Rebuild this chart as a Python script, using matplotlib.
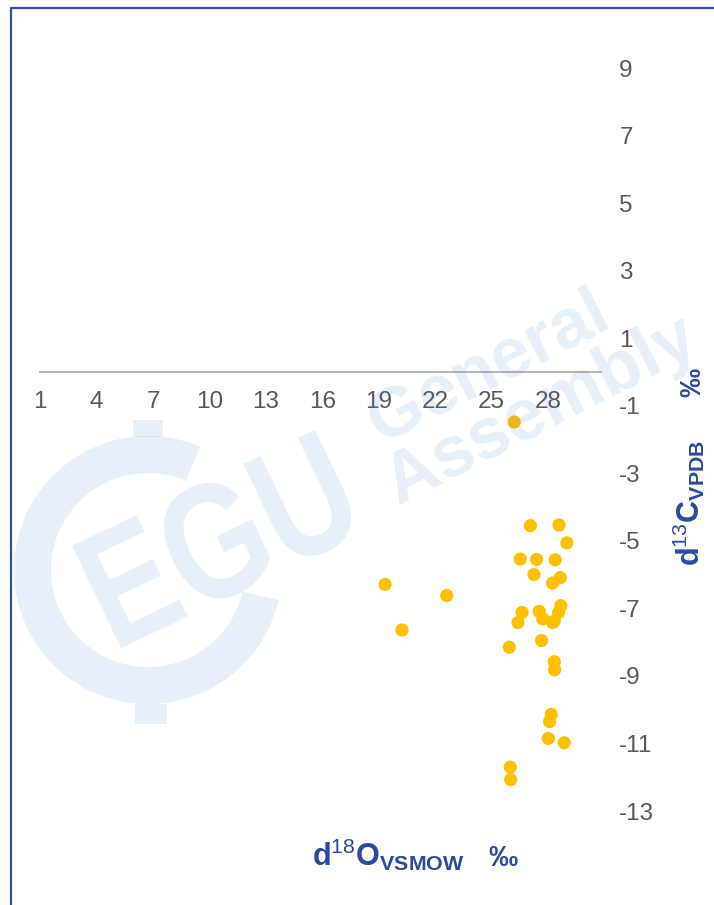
import matplotlib
matplotlib.use('Agg')
import matplotlib.pyplot as plt
import matplotlib.transforms as mtransforms
from matplotlib.textpath import TextPath
from matplotlib.patches import PathPatch, Wedge, Rectangle
from matplotlib.font_manager import FontProperties
from matplotlib.lines import Line2D

# data
d18o = [26.21, 27.07, 28.59, 29.01, 26.53, 27.40, 28.39, 27.26, 28.66, 28.25,
        19.34, 22.62, 28.69, 28.57, 26.63, 27.54, 26.41, 27.73, 28.25, 28.34,
        20.24, 27.66, 25.95, 28.34, 28.36, 28.18, 28.09, 28.02, 28.87, 26.00, 26.02]
d13c = [-1.48, -4.55, -4.53, -5.06, -5.54, -5.55, -5.56, -6.00, -6.09, -6.25,
        -6.29, -6.62, -6.92, -7.12, -7.12, -7.09, -7.42, -7.31, -7.42, -7.38,
        -7.64, -7.95, -8.15, -8.58, -8.82, -10.14, -10.35, -10.85, -10.98, -11.70, -12.07]
x_ticks = list(range(1, 29, 3))
y_ticks = list(range(-13, 10, 2))

W, H = 714, 905
title_blue = '#2B4A9E'
tick_grey = '#595959'

plt.rcParams['font.family'] = ['Liberation Sans', 'DejaVu Sans']
plt.rcParams['axes.unicode_minus'] = False
plt.rcParams['mathtext.fontset'] = 'custom'
plt.rcParams['mathtext.rm'] = 'Liberation Sans'
plt.rcParams['mathtext.bf'] = 'Liberation Sans:bold'

fig = plt.figure(figsize=(W / 100, H / 100), dpi=100)

# main axes, placed in pixel terms
x0_px, x1_px = 40.3, 600.5
ytop_px, ybot_px = 34.3, 811.0
ax = fig.add_axes([x0_px / W, 1 - ybot_px / H, (x1_px - x0_px) / W, (ybot_px - ytop_px) / H])
ax.scatter(d18o, d13c, s=90, color='#FFC000', edgecolors='none', zorder=3, clip_on=False)

ax.set_xlim(1, 30.8)
ax.set_ylim(-13, 10)
ax.set_xticks(x_ticks)
ax.set_yticks(y_ticks)

for s in ['top', 'left', 'right']:
    ax.spines[s].set_visible(False)
ax.spines['bottom'].set_position(('data', 0))
ax.spines['bottom'].set_color('#B4B4B4')
ax.spines['bottom'].set_linewidth(1.4)

ax.yaxis.tick_right()
ax.tick_params(axis='x', length=0, pad=14, labelsize=17.5, labelcolor=tick_grey)
ax.tick_params(axis='y', length=0, pad=13.5, labelsize=17.5, labelcolor=tick_grey)
ax.patch.set_visible(False)

# axis titles
def px(x, y):
    return x / W, 1 - y / H

fig.text(*px(312, 866), r'$\mathbf{d}^{\mathrm{18}}\mathbf{O}_{\mathbf{VSMOW}}$',
         fontsize=22, color=title_blue, ha='left', va='baseline')
fig.text(*px(488, 866), '‰', fontsize=21, fontweight='bold', color=title_blue,
         ha='left', va='baseline')
fig.text(*px(700, 566), r'$\mathbf{d}^{\mathrm{13}}\mathbf{C}_{\mathbf{VPDB}}$',
         fontsize=22, color=title_blue, ha='left', va='baseline',
         rotation=90, rotation_mode='anchor')
fig.text(*px(700, 397), '‰', fontsize=21, fontweight='bold', color=title_blue,
         ha='left', va='baseline', rotation=90, rotation_mode='anchor')

# overlay in pixel coordinates: watermark and frame
wm = fig.add_axes([0, 0, 1, 1])
wm.set_xlim(0, W)
wm.set_ylim(H, 0)
wm.axis('off')
wm.patch.set_visible(False)

wm_color = '#3D7FD0'
wm_alpha = 0.12
wm_font = FontProperties(family='Liberation Sans', weight='bold')


def watermark_word(text, xs, ys, size, angle, sx=1.0):
    path = TextPath((0, 0), text, size=size, prop=wm_font)
    tr = mtransforms.Affine2D().scale(sx, 1).rotate_deg(angle).scale(1, -1).translate(xs, ys)
    wm.add_patch(PathPatch(tr.transform_path(path), fc=wm_color, ec='none', alpha=wm_alpha))


wm.add_patch(Wedge((148, 570), 134, 13, 293, width=37, fc=wm_color, ec='none', alpha=wm_alpha))
wm.add_patch(Rectangle((133, 420), 30, 17, fc=wm_color, ec='none', alpha=wm_alpha))
wm.add_patch(Rectangle((135, 704), 32, 20, fc=wm_color, ec='none', alpha=wm_alpha))
watermark_word('EGU', 113, 652, 165, 25.5, sx=0.8)
watermark_word('General', 381, 445, 70, 27)
watermark_word('Assembly', 398, 506, 72, 27)

wm.add_line(Line2D([11, 11, W + 5], [H + 5, 8, 8], color='#2F4FA6', lw=1.6))

fig.savefig('out.png', dpi=100)
